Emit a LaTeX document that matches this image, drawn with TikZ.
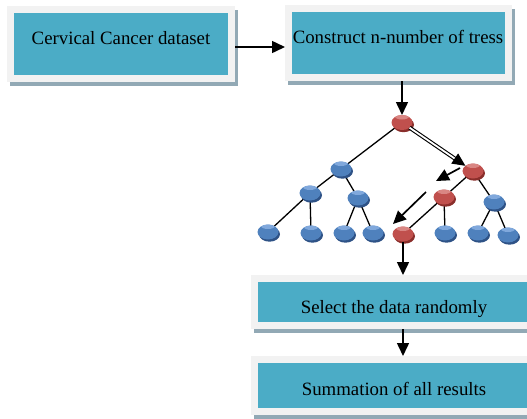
\documentclass[tikz,border=0pt]{standalone}
\usepackage{fontspec}
\setmainfont{Liberation Serif}
\usetikzlibrary{arrows.meta,shapes.geometric,shadows,backgrounds}
\definecolor{cyanbox}{HTML}{4BACC6}
\definecolor{framec}{HTML}{F2F2F2}
\definecolor{shadowc}{HTML}{92A9B5}
\definecolor{redn}{HTML}{C0504D}
\definecolor{redtop}{HTML}{D98683}
\definecolor{redsh}{HTML}{8A2E2B}
\definecolor{bluen}{HTML}{4F81BD}
\definecolor{bluetop}{HTML}{80A8DC}
\definecolor{bluesh}{HTML}{2E5286}
\begin{document}
\begin{tikzpicture}[x=1pt,y=-1pt,
  box/.style={draw=framec, fill=cyanbox, line width=7pt, inner sep=0pt, outer sep=3.5pt,
    preaction={draw=shadowc, fill=shadowc, line width=7pt, transform canvas={shift={(3pt,-4pt)}}}},
  lbl/.style={anchor=base, inner sep=0pt, font=\fontsize{18.8}{22}\selectfont},
  flow/.style={line width=1.5pt, -{Triangle[length=13pt,width=12pt]}},
  tarrow/.style={line width=1.7pt, -{Triangle[length=13pt,width=12pt]}},
  tedge/.style={line width=1.3pt},
  tnode/.style={ellipse, minimum width=21pt, minimum height=15pt, inner sep=0pt, outer sep=0pt},
  rnode/.style={tnode, fill=redn,
    path picture={\fill[redtop] ([yshift=-1.5pt]path picture bounding box.north) ellipse [x radius=7pt, y radius=3pt];},
    drop shadow={shadow xshift=1.5pt, shadow yshift=-2.2pt, fill=redsh, opacity=1}},
  bnode/.style={tnode, fill=bluen,
    path picture={\fill[bluetop] ([yshift=-1.5pt]path picture bounding box.north) ellipse [x radius=7pt, y radius=3pt];},
    drop shadow={shadow xshift=1.5pt, shadow yshift=-2.2pt, fill=bluesh, opacity=1}}
]
\useasboundingbox (0,0) rectangle (527,418);
\clip (0,0) rectangle (527,418);

% boxes
\node[box, minimum width=221pt, minimum height=69pt] (b1) at (121,44) {};
\node[box, minimum width=220pt, minimum height=69pt] (b2) at (398.5,43) {};
\node[box, minimum width=279pt, minimum height=47pt] (b3) at (394,302) {};
\node[box, minimum width=279pt, minimum height=52pt] (b4) at (394,385.5) {};
\node[lbl] (t1) at (121,44) {Cervical Cancer dataset};
\node[lbl] (t2) at (398,43.5) {Construct n-number of tress};
\node[lbl] (t3) at (394,313) {Select the data randomly};
\node[lbl] (t4) at (394,395) {Summation of all results};

% tree nodes
\node[rnode] (R0) at (402,122.5) {};
\node[bnode] (B1) at (341,169) {};
\node[rnode] (R1) at (473,171) {};
\node[bnode] (B2a) at (310,193) {};
\node[bnode] (B2b) at (358,198) {};
\node[rnode] (R2) at (444,197) {};
\node[bnode] (B2c) at (494,202) {};
\node[bnode] (L1) at (268,232) {};
\node[bnode] (L2) at (311,233) {};
\node[bnode] (L3) at (344,233) {};
\node[bnode] (L4) at (373,233) {};
\node[rnode] (RL) at (403,234) {};
\node[bnode] (L6) at (445,233) {};
\node[bnode] (L7) at (478,233) {};
\node[bnode] (L8) at (508,235) {};

% tree edges
\begin{pgfonlayer}{background}
\draw[tedge] (R0.center) -- (B1.center);
\draw[tedge] (B1.center) -- (B2a.center);
\draw[tedge] (B1.center) -- (B2b.center);
\draw[tedge] (B2a.center) -- (L1.center);
\draw[tedge] (B2a.center) -- (L2.center);
\draw[tedge] (B2b.center) -- (L3.center);
\draw[tedge] (B2b.center) -- (L4.center);
\draw[tedge] (R1.center) -- (R2.center);
\draw[tedge] (R1.center) -- (B2c.center);
\draw[tedge] (R2.center) -- (RL.center);
\draw[tedge] (R2.center) -- (L6.center);
\draw[tedge] (B2c.center) -- (L7.center);
\draw[tedge] (B2c.center) -- (L8.center);
\end{pgfonlayer}

% path arrows
\draw[double, double distance=1.8pt, line width=1.1pt, -{Triangle[length=13pt,width=12pt]}] (R0) -- (R1);
\coordinate (a1s) at (460,168);
\coordinate (a1e) at (436,181);
\coordinate (a2s) at (426,192);
\coordinate (a2e) at (393,224);
\draw[tarrow] (a1s) -- (a1e);
\draw[tarrow] (a2s) -- (a2e);

% flow arrows
\draw[flow] ([yshift=-3pt]b1.east) -- ([yshift=-3pt]b1.east -| b2.west);
\draw[flow] (b2.south -| R0) -- (R0.north);
\draw[flow] (RL.south) -- (RL.south |- b3.north);
\draw[flow] (b3.south -| RL) -- (b4.north -| RL);
\end{tikzpicture}
\end{document}
